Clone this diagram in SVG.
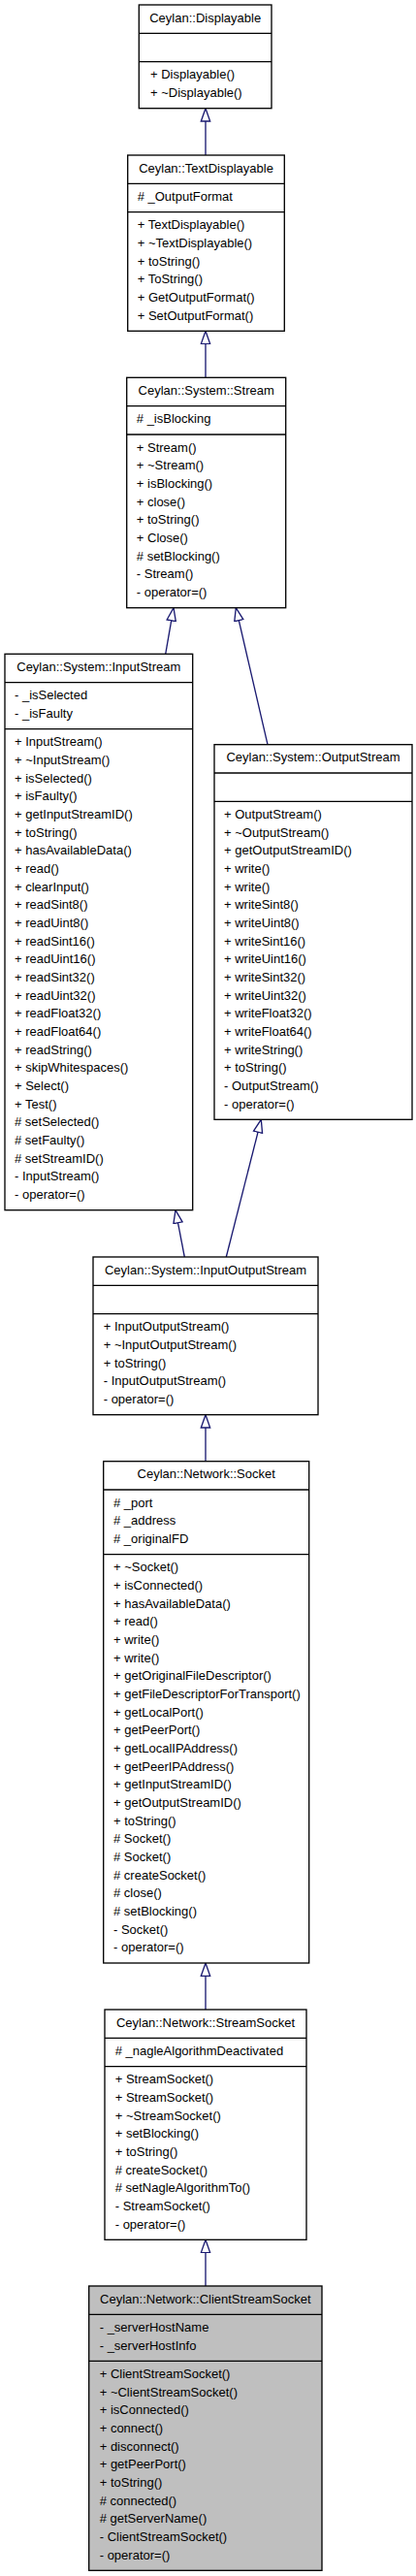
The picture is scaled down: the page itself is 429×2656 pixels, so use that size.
<svg xmlns="http://www.w3.org/2000/svg" width="429" height="2656" viewBox="0 0 429 2656">
<style>
.box{fill:#ffffff;stroke:#000000;stroke-width:1.33}
.main{fill:#bfbfbf;stroke:#000000;stroke-width:1.33}
.sep{stroke:#000000;stroke-width:1.33}
text{font-family:"Liberation Sans",Arial,sans-serif;font-size:13px;fill:#000000}
.t{text-anchor:middle}
.edge{fill:none;stroke:#191970;stroke-width:1.33}
</style>
<defs>
<marker id="inh" markerUnits="userSpaceOnUse" markerWidth="16" markerHeight="12" refX="14" refY="5.67" orient="auto" viewBox="0 0 16 12">
<path d="M0.7,1 L14,5.67 L0.7,10.33 Z" fill="#ffffff" stroke="#191970" stroke-width="1.33"/>
</marker>
</defs>
<rect width="429" height="2656" fill="#ffffff"/>
<g id="connectors">
<path class="edge" d="M212,160 L212,111.7" marker-end="url(#inh)"/>
<path class="edge" d="M212,389.3 L212,341.3" marker-end="url(#inh)"/>
<path class="edge" d="M170.7,674.3 L179,626.7" marker-end="url(#inh)"/>
<path class="edge" d="M276,767.7 L243.3,626.7" marker-end="url(#inh)"/>
<path class="edge" d="M190.3,1296 L181,1247.7" marker-end="url(#inh)"/>
<path class="edge" d="M233.3,1296 L269.3,1154.3" marker-end="url(#inh)"/>
<path class="edge" d="M212,1506.7 L212,1458.7" marker-end="url(#inh)"/>
<path class="edge" d="M212,2072 L212,2024" marker-end="url(#inh)"/>
<path class="edge" d="M212,2357 L212,2309.3" marker-end="url(#inh)"/>
</g>
<g id="Displayable">
<rect class="box" x="143.3" y="5" width="136.7" height="106.7"/>
<line class="sep" x1="143.3" y1="34.3" x2="280" y2="34.3"/>
<line class="sep" x1="143.3" y1="63.7" x2="280" y2="63.7"/>
<text class="t" x="211.7" y="22.7">Ceylan::Displayable</text>
<text x="155"><tspan x="155" y="81.4">+ Displayable()</tspan><tspan x="155" dy="18.67">+ ~Displayable()</tspan></text>
</g>
<g id="TextDisplayable">
<rect class="box" x="131.7" y="160" width="161.6" height="181.3"/>
<line class="sep" x1="131.7" y1="189.3" x2="293.3" y2="189.3"/>
<line class="sep" x1="131.7" y1="218.7" x2="293.3" y2="218.7"/>
<text class="t" x="212.5" y="177.7">Ceylan::TextDisplayable</text>
<text x="141.7"><tspan x="141.7" y="207">#  _OutputFormat</tspan></text>
<text x="141.7"><tspan x="141.7" y="236.4">+ TextDisplayable()</tspan><tspan x="141.7" dy="18.67">+ ~TextDisplayable()</tspan><tspan x="141.7" dy="18.67">+ toString()</tspan><tspan x="141.7" dy="18.67">+ ToString()</tspan><tspan x="141.7" dy="18.67">+ GetOutputFormat()</tspan><tspan x="141.7" dy="18.67">+ SetOutputFormat()</tspan></text>
</g>
<g id="Stream">
<rect class="box" x="130.7" y="389.3" width="164" height="237.4"/>
<line class="sep" x1="130.7" y1="418.7" x2="294.7" y2="418.7"/>
<line class="sep" x1="130.7" y1="448" x2="294.7" y2="448"/>
<text class="t" x="212.7" y="407">Ceylan::System::Stream</text>
<text x="140.8"><tspan x="140.8" y="436.4">#  _isBlocking</tspan></text>
<text x="140.8"><tspan x="140.8" y="465.7">+ Stream()</tspan><tspan x="140.8" dy="18.67">+ ~Stream()</tspan><tspan x="140.8" dy="18.67">+ isBlocking()</tspan><tspan x="140.8" dy="18.67">+ close()</tspan><tspan x="140.8" dy="18.67">+ toString()</tspan><tspan x="140.8" dy="18.67">+ Close()</tspan><tspan x="140.8" dy="18.67"># setBlocking()</tspan><tspan x="140.8" dy="18.67">- Stream()</tspan><tspan x="140.8" dy="18.67">- operator=()</tspan></text>
</g>
<g id="InputStream">
<rect class="box" x="5" y="674.3" width="193.7" height="573.4"/>
<line class="sep" x1="5" y1="703.7" x2="198.7" y2="703.7"/>
<line class="sep" x1="5" y1="751.7" x2="198.7" y2="751.7"/>
<text class="t" x="101.8" y="692">Ceylan::System::InputStream</text>
<text x="15"><tspan x="15" y="721.4">-  _isSelected</tspan><tspan x="15" dy="18.67">-  _isFaulty</tspan></text>
<text x="15"><tspan x="15" y="769.4">+ InputStream()</tspan><tspan x="15" dy="18.67">+ ~InputStream()</tspan><tspan x="15" dy="18.67">+ isSelected()</tspan><tspan x="15" dy="18.67">+ isFaulty()</tspan><tspan x="15" dy="18.67">+ getInputStreamID()</tspan><tspan x="15" dy="18.67">+ toString()</tspan><tspan x="15" dy="18.67">+ hasAvailableData()</tspan><tspan x="15" dy="18.67">+ read()</tspan><tspan x="15" dy="18.67">+ clearInput()</tspan><tspan x="15" dy="18.67">+ readSint8()</tspan><tspan x="15" dy="18.67">+ readUint8()</tspan><tspan x="15" dy="18.67">+ readSint16()</tspan><tspan x="15" dy="18.67">+ readUint16()</tspan><tspan x="15" dy="18.67">+ readSint32()</tspan><tspan x="15" dy="18.67">+ readUint32()</tspan><tspan x="15" dy="18.67">+ readFloat32()</tspan><tspan x="15" dy="18.67">+ readFloat64()</tspan><tspan x="15" dy="18.67">+ readString()</tspan><tspan x="15" dy="18.67">+ skipWhitespaces()</tspan><tspan x="15" dy="18.67">+ Select()</tspan><tspan x="15" dy="18.67">+ Test()</tspan><tspan x="15" dy="18.67"># setSelected()</tspan><tspan x="15" dy="18.67"># setFaulty()</tspan><tspan x="15" dy="18.67"># setStreamID()</tspan><tspan x="15" dy="18.67">- InputStream()</tspan><tspan x="15" dy="18.67">- operator=()</tspan></text>
</g>
<g id="OutputStream">
<rect class="box" x="221" y="767.7" width="204" height="386.6"/>
<line class="sep" x1="221" y1="797" x2="425" y2="797"/>
<line class="sep" x1="221" y1="826.3" x2="425" y2="826.3"/>
<text class="t" x="323" y="785.4">Ceylan::System::OutputStream</text>
<text x="231"><tspan x="231" y="844">+ OutputStream()</tspan><tspan x="231" dy="18.67">+ ~OutputStream()</tspan><tspan x="231" dy="18.67">+ getOutputStreamID()</tspan><tspan x="231" dy="18.67">+ write()</tspan><tspan x="231" dy="18.67">+ write()</tspan><tspan x="231" dy="18.67">+ writeSint8()</tspan><tspan x="231" dy="18.67">+ writeUint8()</tspan><tspan x="231" dy="18.67">+ writeSint16()</tspan><tspan x="231" dy="18.67">+ writeUint16()</tspan><tspan x="231" dy="18.67">+ writeSint32()</tspan><tspan x="231" dy="18.67">+ writeUint32()</tspan><tspan x="231" dy="18.67">+ writeFloat32()</tspan><tspan x="231" dy="18.67">+ writeFloat64()</tspan><tspan x="231" dy="18.67">+ writeString()</tspan><tspan x="231" dy="18.67">+ toString()</tspan><tspan x="231" dy="18.67">- OutputStream()</tspan><tspan x="231" dy="18.67">- operator=()</tspan></text>
</g>
<g id="InputOutputStream">
<rect class="box" x="96" y="1296" width="232" height="162.7"/>
<line class="sep" x1="96" y1="1325.3" x2="328" y2="1325.3"/>
<line class="sep" x1="96" y1="1354.7" x2="328" y2="1354.7"/>
<text class="t" x="212" y="1313.7">Ceylan::System::InputOutputStream</text>
<text x="106.7"><tspan x="106.7" y="1372.4">+ InputOutputStream()</tspan><tspan x="106.7" dy="18.67">+ ~InputOutputStream()</tspan><tspan x="106.7" dy="18.67">+ toString()</tspan><tspan x="106.7" dy="18.67">- InputOutputStream()</tspan><tspan x="106.7" dy="18.67">- operator=()</tspan></text>
</g>
<g id="Socket">
<rect class="box" x="106.7" y="1506.7" width="212" height="517.3"/>
<line class="sep" x1="106.7" y1="1536" x2="318.7" y2="1536"/>
<line class="sep" x1="106.7" y1="1602.7" x2="318.7" y2="1602.7"/>
<text class="t" x="212.7" y="1524.4">Ceylan::Network::Socket</text>
<text x="117"><tspan x="117" y="1553.7">#  _port</tspan><tspan x="117" dy="18.67">#  _address</tspan><tspan x="117" dy="18.67">#  _originalFD</tspan></text>
<text x="117"><tspan x="117" y="1620.4">+ ~Socket()</tspan><tspan x="117" dy="18.67">+ isConnected()</tspan><tspan x="117" dy="18.67">+ hasAvailableData()</tspan><tspan x="117" dy="18.67">+ read()</tspan><tspan x="117" dy="18.67">+ write()</tspan><tspan x="117" dy="18.67">+ write()</tspan><tspan x="117" dy="18.67">+ getOriginalFileDescriptor()</tspan><tspan x="117" dy="18.67">+ getFileDescriptorForTransport()</tspan><tspan x="117" dy="18.67">+ getLocalPort()</tspan><tspan x="117" dy="18.67">+ getPeerPort()</tspan><tspan x="117" dy="18.67">+ getLocalIPAddress()</tspan><tspan x="117" dy="18.67">+ getPeerIPAddress()</tspan><tspan x="117" dy="18.67">+ getInputStreamID()</tspan><tspan x="117" dy="18.67">+ getOutputStreamID()</tspan><tspan x="117" dy="18.67">+ toString()</tspan><tspan x="117" dy="18.67"># Socket()</tspan><tspan x="117" dy="18.67"># Socket()</tspan><tspan x="117" dy="18.67"># createSocket()</tspan><tspan x="117" dy="18.67"># close()</tspan><tspan x="117" dy="18.67"># setBlocking()</tspan><tspan x="117" dy="18.67">- Socket()</tspan><tspan x="117" dy="18.67">- operator=()</tspan></text>
</g>
<g id="StreamSocket">
<rect class="box" x="108" y="2072" width="208" height="237.3"/>
<line class="sep" x1="108" y1="2101.3" x2="316" y2="2101.3"/>
<line class="sep" x1="108" y1="2130.7" x2="316" y2="2130.7"/>
<text class="t" x="212" y="2089.7">Ceylan::Network::StreamSocket</text>
<text x="118.7"><tspan x="118.7" y="2119">#  _nagleAlgorithmDeactivated</tspan></text>
<text x="118.7"><tspan x="118.7" y="2148.4">+ StreamSocket()</tspan><tspan x="118.7" dy="18.67">+ StreamSocket()</tspan><tspan x="118.7" dy="18.67">+ ~StreamSocket()</tspan><tspan x="118.7" dy="18.67">+ setBlocking()</tspan><tspan x="118.7" dy="18.67">+ toString()</tspan><tspan x="118.7" dy="18.67"># createSocket()</tspan><tspan x="118.7" dy="18.67"># setNagleAlgorithmTo()</tspan><tspan x="118.7" dy="18.67">- StreamSocket()</tspan><tspan x="118.7" dy="18.67">- operator=()</tspan></text>
</g>
<g id="ClientStreamSocket">
<rect class="main" x="91.7" y="2357" width="240.3" height="293.3"/>
<line class="sep" x1="91.7" y1="2386.3" x2="332" y2="2386.3"/>
<line class="sep" x1="91.7" y1="2434.3" x2="332" y2="2434.3"/>
<text class="t" x="211.8" y="2374.7">Ceylan::Network::ClientStreamSocket</text>
<text x="102.7"><tspan x="102.7" y="2404">-  _serverHostName</tspan><tspan x="102.7" dy="18.67">-  _serverHostInfo</tspan></text>
<text x="102.7"><tspan x="102.7" y="2452">+ ClientStreamSocket()</tspan><tspan x="102.7" dy="18.67">+ ~ClientStreamSocket()</tspan><tspan x="102.7" dy="18.67">+ isConnected()</tspan><tspan x="102.7" dy="18.67">+ connect()</tspan><tspan x="102.7" dy="18.67">+ disconnect()</tspan><tspan x="102.7" dy="18.67">+ getPeerPort()</tspan><tspan x="102.7" dy="18.67">+ toString()</tspan><tspan x="102.7" dy="18.67"># connected()</tspan><tspan x="102.7" dy="18.67"># getServerName()</tspan><tspan x="102.7" dy="18.67">- ClientStreamSocket()</tspan><tspan x="102.7" dy="18.67">- operator=()</tspan></text>
</g>
</svg>
